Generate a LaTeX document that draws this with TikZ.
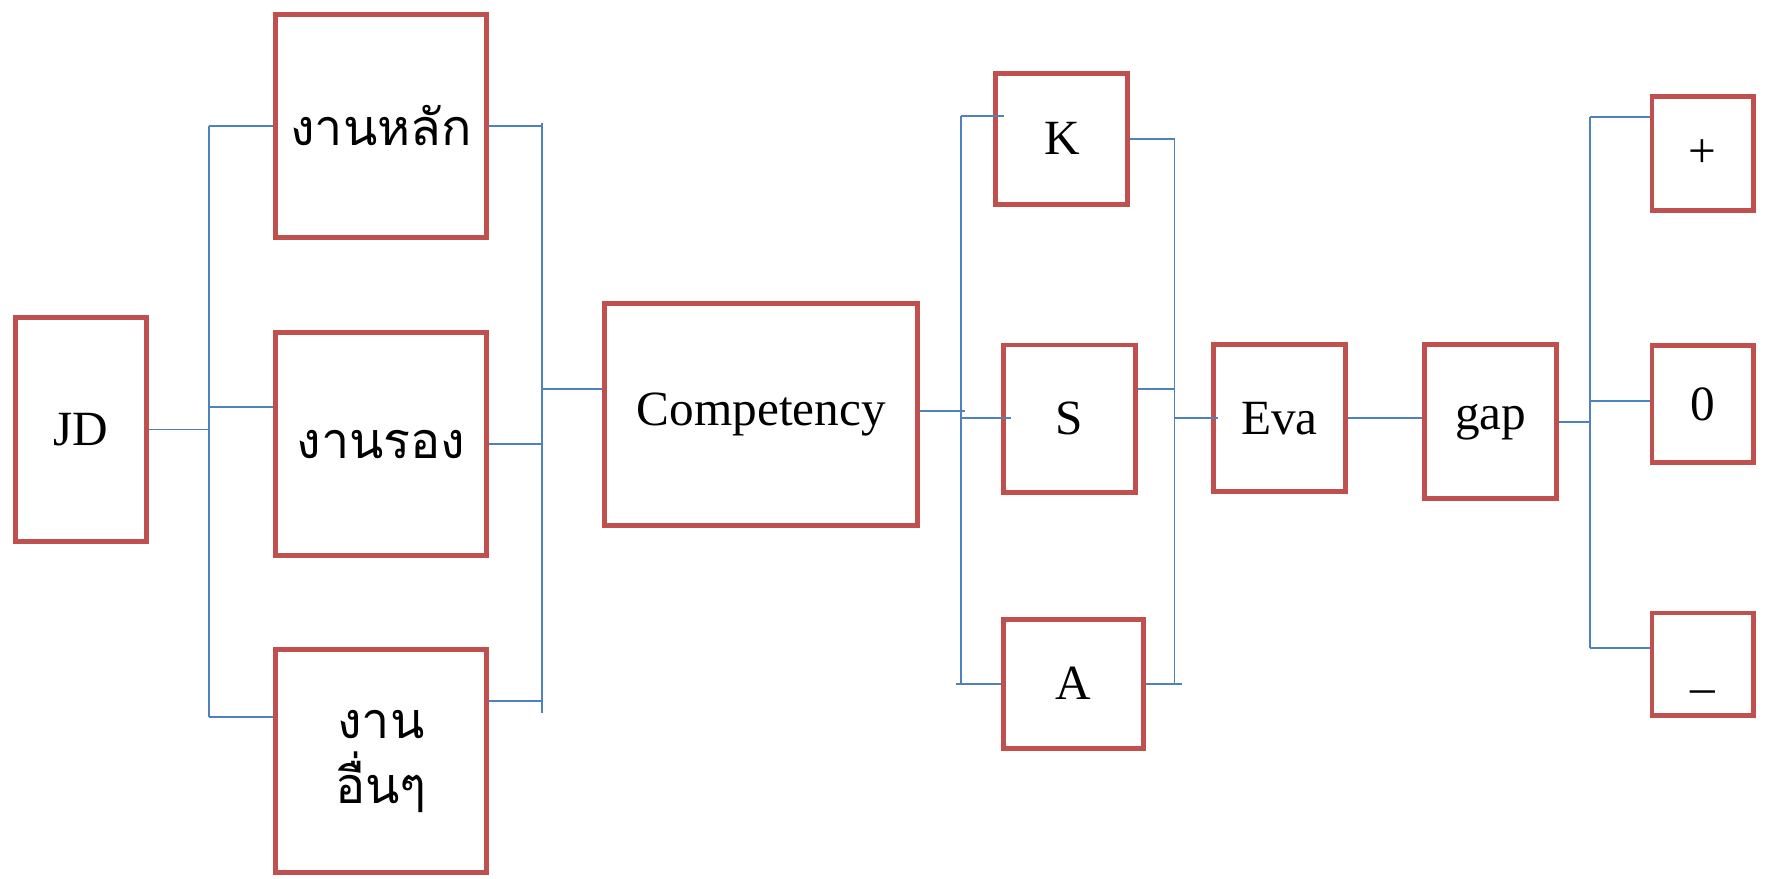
\documentclass[tikz,border=0pt]{standalone}
\usepackage{fontspec}
\setmainfont{Liberation Serif}
\newfontfamily\thaifont[Script=Thai]{Loma}
\definecolor{boxred}{HTML}{C0504D}
\definecolor{wireblue}{HTML}{4F81BD}

\begin{document}
\begin{tikzpicture}[x=0.01cm,y=-0.01cm,
  box/.style 2 args={draw=boxred,line width=1.4pt,minimum width=#1,minimum height=#2,
    inner sep=0pt,align=center,font=\fontsize{14}{16.8}\selectfont},
  thai/.style={font=\thaifont\fontsize{14.3}{18.5}\selectfont},
  wire/.style={draw=wireblue,line width=0.5pt}]
\useasboundingbox (0,0) rectangle (1767,878);

\node[box={1.31cm}{2.23cm}] (jd) at (81,429.5) {JD};
\node[box={2.1cm}{2.22cm},thai] (w1) at (381,126) {งานหลัก};
\node[box={2.1cm}{2.23cm},thai] (w2) at (381,444) {งานรอง};
\node[box={2.1cm}{2.22cm},thai] (w3) at (381,761) {งาน\\อื่นๆ};
\node[box={3.13cm}{2.22cm}] (comp) at (761.3,414.2) {Competency};
\node[box={1.32cm}{1.31cm}] (k) at (1061.8,138.7) {K};
\node[box={1.32cm}{1.47cm}] (s) at (1069.3,418.5) {S};
\node[box={1.4cm}{1.29cm}] (a) at (1073.2,683.7) {A};
\node[box={1.32cm}{1.47cm}] (eva) at (1279.3,418.2) {Eva};
\node[box={1.32cm}{1.54cm}] (gap) at (1490.8,421.7) {gap};
\node[box={1.01cm}{1.14cm}] (plus) at (1702.5,153.8) {+};
\node[box={1.01cm}{1.17cm}] (zero) at (1702.5,404) {0};
\node[box={1.01cm}{1.02cm}] (minus) at (1702.5,664) {\raisebox{-0.39cm}[0pt][0pt]{--}};

\coordinate (f1) at (209,126);
\coordinate (f2) at (209,407);
\coordinate (f3) at (209,717);
\coordinate (fj) at (209,429.5);
\draw[wire] (f1) -- (f3);
\draw[wire] (jd) -- (fj);
\draw[wire] (f1) -- (w1);
\draw[wire] (f2) -- (f2 -| w2.west);
\draw[wire] (f3) -- (f3 -| w3.west);

\coordinate (g1) at (542,123);
\coordinate (g2) at (542,444);
\coordinate (g3) at (542,713);
\coordinate (g4) at (542,701);
\coordinate (gc) at (542,388.7);
\draw[wire] (g1) -- (g3);
\draw[wire] (w1.east) -- (w1.east -| g1);
\draw[wire] (w2) -- (g2);
\draw[wire] (g4 -| w3.east) -- (g4);
\draw[wire] (gc) -- (gc -| comp.west);

\coordinate (h0) at (964.7,410.7);
\coordinate (h1) at (960.8,116);
\coordinate (h2) at (960.8,418.3);
\coordinate (h3) at (960.8,683.7);
\draw[wire] (h1) -- (h3);
\draw[wire] (h0 -| comp.east) -- (h0);
\draw[wire] (h1) -- ([xshift=0.105cm]h1 -| k.west);
\draw[wire] (h2) -- ([xshift=0.105cm]h2 -| s.west);
\draw[wire] ([xshift=-0.045cm]h3) -- (a);

\coordinate (m1) at (1174.5,138.7);
\coordinate (m2) at (1174.5,388.7);
\coordinate (m3) at (1174.5,683.7);
\coordinate (me) at (1174.5,418.3);
\draw[wire] (m1) -- (m3);
\draw[wire] (k) -- (m1);
\draw[wire] (m2 -| s.east) -- (m2);
\draw[wire] (a) -- ([xshift=0.073cm]m3);
\draw[wire] (me) -- ([xshift=0.07cm]me -| eva.west);

\draw[wire] (eva.east) -- (eva.east -| gap.west);

\coordinate (n1) at (1589.6,116.7);
\coordinate (n2) at (1589.6,400.7);
\coordinate (n3) at (1589.6,648.3);
\draw[wire] (n1) -- (n3);
\draw[wire] (gap) -- (gap -| n1);
\draw[wire] (n1) -- (n1 -| plus.west);
\draw[wire] (n2) -- (n2 -| zero.west);
\draw[wire] (n3) -- (n3 -| minus.west);
\end{tikzpicture}
\end{document}
